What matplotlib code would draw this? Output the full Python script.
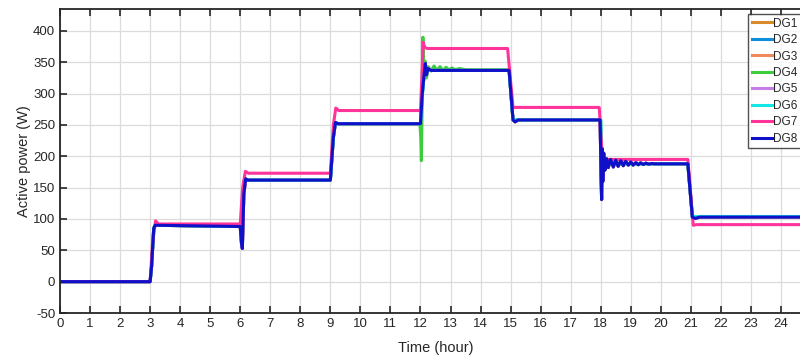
import numpy as np
import matplotlib
matplotlib.use("Agg")
from matplotlib import pyplot as plt

plt.rcParams['font.family'] = ['Liberation Sans', 'DejaVu Sans']
plt.rcParams['axes.unicode_minus'] = False

# ---- data (time in hours, power in W) ----
labels = ['DG1', 'DG2', 'DG3', 'DG4', 'DG5', 'DG6', 'DG7', 'DG8']
colors = ['#D98B2B', '#0F8FDB', '#F08A5D', '#3DCC3D', '#C77DE8', '#14E5E5', '#FF3399', '#1010C8']

# DG1, DG2, DG3, DG5 and DG8 sit on the same curve
t_dg8 = [0, 3.0, 3.05, 3.12, 3.17, 6.0, 6.04, 6.07, 6.12, 6.18, 6.25, 9.0, 9.1, 9.17, 9.25,
         12.0, 12.06, 12.12, 12.16, 12.2, 12.25, 12.35, 14.95, 15.08, 15.15, 15.25,
         17.98, 18.01, 18.03, 18.05, 18.07, 18.1, 18.14, 18.2, 18.25, 18.33, 18.42, 18.5,
         18.58, 18.67, 18.75, 18.83, 18.92, 19.0, 19.08, 19.17, 19.25, 19.33, 19.42, 19.5,
         19.6, 19.7, 19.8, 20.9, 21.05, 21.15, 21.3, 24.8]
p_dg8 = [0, 0, 25, 85, 90, 88, 62, 53, 140, 164, 162, 162, 230, 254, 252,
         252, 300, 330, 348, 330, 340, 337, 337, 258, 255, 258,
         258, 170, 131, 212, 160, 205, 178, 196, 182, 195, 183, 194,
         184, 193, 185, 192, 186, 191, 186, 190, 186.5, 189.5, 187, 189,
         187.5, 188.5, 188, 188, 103, 101, 103, 103]

t_dg4 = [0, 3.0, 3.05, 3.12, 3.17, 6.0, 6.05, 6.12, 6.18, 6.25, 9.0, 9.1, 9.17, 9.25,
         11.98, 12.01, 12.03, 12.06, 12.08, 12.11, 12.15, 12.2, 12.26, 12.35, 12.45,
         12.55, 12.65, 12.75, 12.85, 12.95, 13.05, 13.15, 13.3, 13.5, 14.95, 15.08, 15.25,
         18.0, 18.05, 18.1, 18.2, 20.9, 21.05, 21.3, 24.8]
p_dg4 = [0, 0, 25, 85, 90, 88, 70, 160, 163, 162, 162, 230, 254, 252,
         252, 230, 193, 300, 390, 330, 352, 325, 343, 336, 344,
         337, 343, 337, 342, 338, 341, 338, 340, 338, 338, 258, 258,
         258, 180, 192, 188, 188, 103, 103, 103]

t_dg6 = [0, 3.0, 3.05, 3.12, 3.17, 6.0, 6.05, 6.12, 6.18, 6.25, 9.0, 9.1, 9.17, 9.25,
         12.0, 12.1, 12.2, 12.35, 14.95, 15.08, 15.25,
         18.0, 18.04, 18.08, 18.12, 18.16, 18.22, 18.3, 18.4, 18.5, 18.6, 20.9, 21.05, 21.3, 24.8]
p_dg6 = [0, 0, 25, 85, 90, 88, 70, 160, 163, 162, 162, 230, 254, 252,
         252, 320, 338, 337, 337, 258, 258,
         258, 175, 200, 182, 196, 184, 193, 185, 191, 188, 188, 104, 104, 104]

t_dg7 = [0, 3.0, 3.08, 3.18, 3.28, 6.0, 6.08, 6.17, 6.27, 9.0, 9.1, 9.18, 9.28,
         12.0, 12.05, 12.09, 12.14, 12.22, 14.9, 15.08, 15.2,
         17.95, 18.05, 18.12, 18.2, 20.9, 21.08, 21.2, 24.8]
p_dg7 = [0, 0, 60, 97, 92, 92, 150, 176, 173, 173, 250, 277, 273,
         273, 330, 382, 374, 372, 372, 278, 278,
         278, 200, 197, 195, 195, 90, 91, 91]

series_t = [t_dg8, t_dg8, t_dg8, t_dg4, t_dg8, t_dg6, t_dg7, t_dg8]
series_p = [p_dg8, p_dg8, p_dg8, p_dg4, p_dg8, p_dg6, p_dg7, p_dg8]

x_ticks = list(range(0, 25))
y_ticks = list(range(-50, 401, 50))

fig = plt.figure(figsize=(8.0, 3.61), dpi=100)
# the original picture is cropped on the right, so the axes run past the edge
ax = fig.add_axes([60/800, 1-313/361, (811-60)/800, (313-9)/361])

for t, p, c, lab in zip(series_t, series_p, colors, labels):
    ax.plot(t, p, color=c, lw=2.2, label=lab)

ax.set_xlim(0, 25)
ax.set_ylim(-50, 435)
ax.set_xticks(x_ticks)
ax.set_yticks(y_ticks)
ax.grid(True, color='#dcdcdc', lw=0.9)
ax.set_axisbelow(True)
ax.tick_params(direction='in', length=5, width=1.2, labelsize=9.5, colors='#262626',
               top=True, right=False)
for s in ax.spines.values():
    s.set_color('#262626')
    s.set_linewidth(1.3)

ax.set_xlabel('Time (hour)', fontsize=10.5, color='#262626', labelpad=8)
ax.set_ylabel('Active power (W)', fontsize=10.5, color='#262626', labelpad=1)

leg = fig.legend(loc='upper left', bbox_to_anchor=(748/800, 1-14/361), borderaxespad=0,
                 fontsize=8.5, frameon=True, fancybox=False, handlelength=1.7,
                 handletextpad=0.15, labelspacing=0.38, borderpad=0.3)
leg.get_frame().set_edgecolor('#262626')
leg.get_frame().set_linewidth(1.0)
for txt in leg.get_texts():
    txt.set_color('#262626')

fig.savefig('out.png', dpi=100)
